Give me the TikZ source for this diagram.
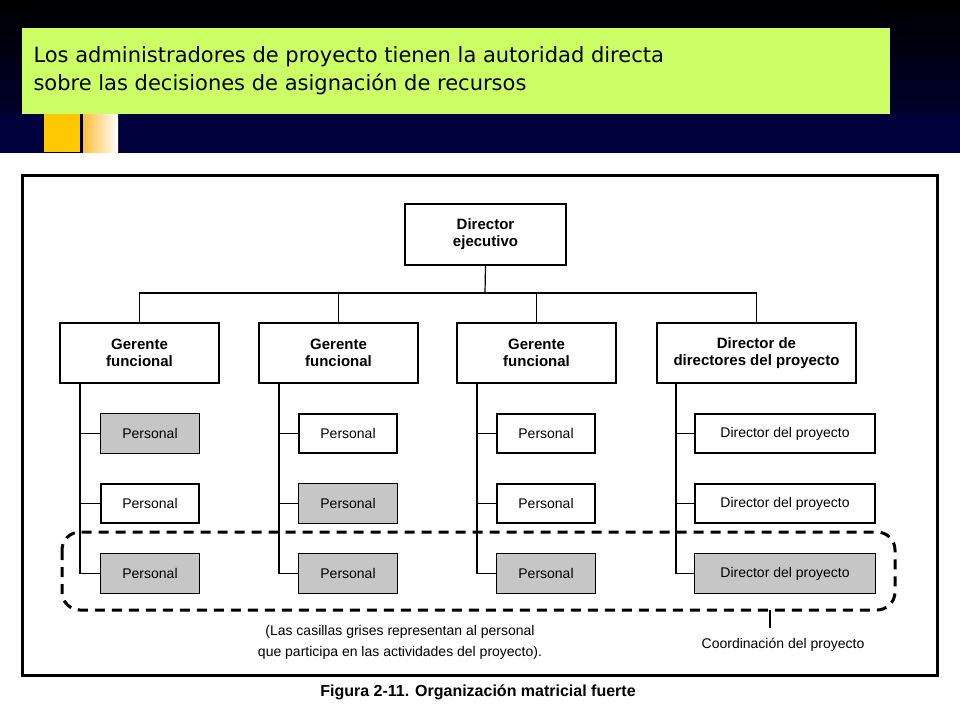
\documentclass[tikz,border=0pt]{standalone}
\usepackage{fontspec}
\setmainfont{Liberation Sans}
\newfontfamily\titlefont{DejaVu Sans}
\definecolor{navy}{RGB}{0,0,60}
\definecolor{gold}{RGB}{255,200,0}
\definecolor{lorange}{RGB}{255,190,60}
\definecolor{lime}{RGB}{204,255,102}
\begin{document}
\begin{tikzpicture}[x=1pt,y=-1pt,
  boss/.style={draw,line width=1.4pt,fill=white,font=\bfseries\fontsize{15}{17}\selectfont,align=center,inner sep=0},
  staff/.style={draw,line width=1.2pt,fill=white,font=\fontsize{14}{16}\selectfont,inner sep=0},
  ln/.style={line width=1.2pt}]
\useasboundingbox (0,0) rectangle (960,720);
\shade[top color=black,bottom color=navy] (0,0) rectangle (960,152);
\fill[navy] (0,114) rectangle (960,152);
\fill[gold] (44,114) rectangle (80,152);
\fill[black] (80,114) rectangle (83,152);
\shade[left color=lorange,right color=white] (83,114) rectangle (118,152);
\node[fill=lime,minimum width=868,minimum height=86,inner sep=0] (title) at (456,71) {};
\node[anchor=west,align=left,font=\titlefont\fontsize{21}{28}\selectfont] (tt) at (30,71) {Los administradores de proyecto tienen la autoridad directa\\sobre las decisiones de asignación de recursos};
\draw[line width=3pt] (22,175) rectangle (937,675);
\node[boss,minimum width=161,minimum height=61] (ceo) at (485.5,234.5) {Director\\ejecutivo};
\node[boss,minimum width=159,minimum height=60] (g1) at (139.5,353) {Gerente\\funcional};
\node[boss,minimum width=159,minimum height=60] (g2) at (338.5,353) {Gerente\\funcional};
\node[boss,minimum width=159,minimum height=60] (g3) at (536.5,353) {Gerente\\funcional};
\node[boss,minimum width=199,minimum height=60] (g4) at (756.5,353) {Director de\\directores del proyecto};
\coordinate (bus) at (485,293);
\draw[ln] (ceo.south) -- (bus);
\draw[ln] (g1.north) |- (bus) -| (g4.north);
\draw[ln] (g2.north) -- (g2.north |- bus);
\draw[ln] (g3.north) -- (g3.north |- bus);
\foreach \c/\x/\sx/\w/\t in {1/80/150/98/Personal,2/279/348/98/Personal,3/477/546/98/Personal,4/676/785/180/Director del proyecto}{
  \foreach \r/\y in {1/433.5,2/503.5,3/573.5}{
    \node[staff,minimum width=\w,minimum height=39] (s\c\r) at (\sx,\y) {\t};
    \draw[ln] (\x,\y) -- (s\c\r.west);
  }
  \draw[ln] (\x,383) -- (\x,573.5);
}
\foreach \n in {s11,s13,s22,s23,s33,s43}{\path[fill=gray!45,draw,line width=1.2pt] (\n.south west) rectangle (\n.north east);}
\node[font=\fontsize{14}{16}\selectfont] at (s11) {Personal};
\node[font=\fontsize{14}{16}\selectfont] at (s13) {Personal};
\node[font=\fontsize{14}{16}\selectfont] at (s22) {Personal};
\node[font=\fontsize{14}{16}\selectfont] at (s23) {Personal};
\node[font=\fontsize{14}{16}\selectfont] at (s33) {Personal};
\node[font=\fontsize{14}{16}\selectfont] at (s43) {Director del proyecto};
\draw[line width=3pt,dash pattern=on 10pt off 7pt,rounded corners=18pt] (62,532) rectangle (895,610);
\coordinate (tick) at (770,610);
\node[font=\fontsize{14}{16}\selectfont] (coord) at (783,645) {Coordinación del proyecto};
\draw[ln] (tick) -- (770,628);
\node[font=\fontsize{14}{21}\selectfont,align=center] (note) at (400,642) {(Las casillas grises representan al personal\\que participa en las actividades del proyecto).};
\node[font=\bfseries\fontsize{16}{18}\selectfont] (cap) at (478,692) {Figura 2-11. Organización matricial fuerte};
\end{tikzpicture}
\end{document}
